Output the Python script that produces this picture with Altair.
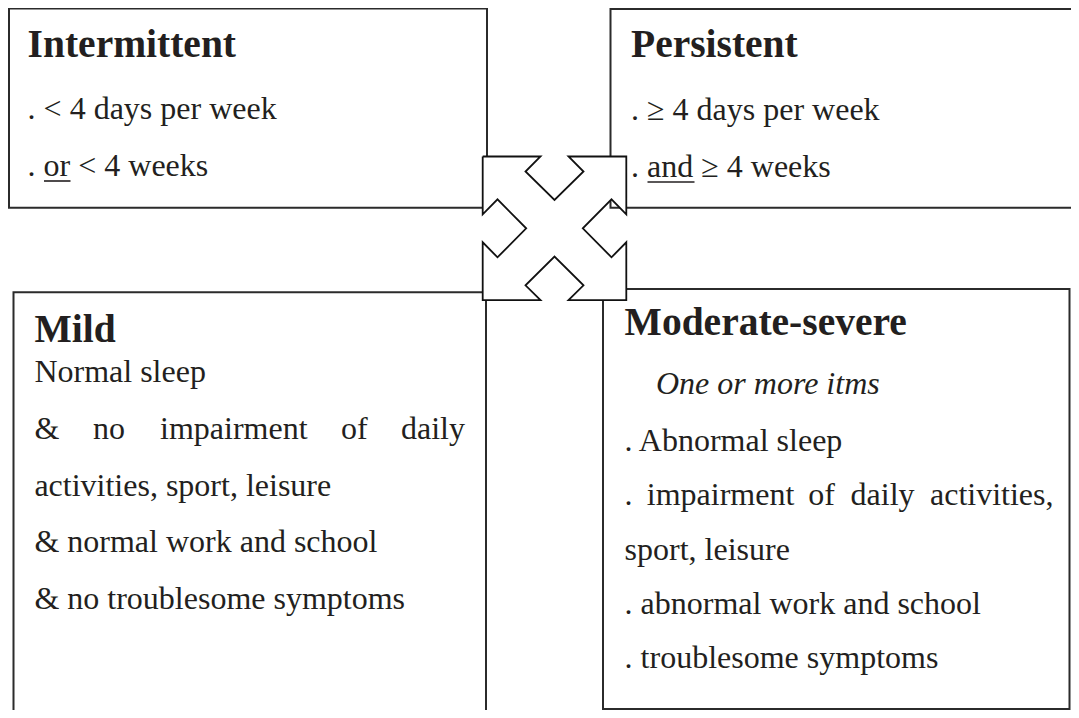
import altair as alt
import pandas as pd

# ---- boxes (page pixel coordinates) ----
box_names = ["Intermittent", "Persistent", "Mild", "Moderate-severe"]
box_x1 = [9.0, 610.5, 13.5, 603.0]
box_x2 = [487.0, 1100.0, 486.0, 1069.5]
box_y1 = [8.5, 9.0, 292.3, 289.0]
box_y2 = [207.7, 207.7, 740.0, 709.0]

# ---- four-way arrow outline ----
arrow_x = [482.7, 540.5, 525.5, 554.5, 583.5, 568.5, 626.3, 626.3, 611.5, 582.8,
           611.5, 626.3, 626.3, 568.5, 583.5, 554.5, 525.5, 540.5, 482.7, 482.7,
           497.5, 526.2, 497.5, 482.7, 482.7]
arrow_y = [156.5, 156.5, 171.5, 200.0, 171.5, 156.5, 156.5, 214.3, 199.3, 228.3,
           257.3, 242.3, 300.1, 300.1, 285.3, 256.6, 285.3, 300.1, 300.1, 242.3,
           257.3, 228.3, 199.3, 214.3, 156.5]

# ---- titles ----
title_text = ["Intermittent", "Persistent", "Mild", "Moderate-severe"]
title_x = [27.6, 631.0, 34.4, 624.6]
title_y = [57.0, 56.7, 342.0, 334.6]

# ---- body text (regular) ----
body_text = [
    ". < 4 days per week", ". or < 4 weeks",
    ". \u2265 4 days per week", ". and \u2265 4 weeks",
    "Normal sleep",
    "&", "no", "impairment", "of", "daily",
    "activities, sport, leisure", "& normal work and school", "& no troublesome symptoms",
    ". Abnormal sleep",
    ".", "impairment", "of", "daily", "activities,",
    "sport, leisure", ". abnormal work and school", ". troublesome symptoms",
]
body_x = [
    27.6, 27.6,
    631.0, 631.0,
    34.4,
    34.4, 93.0, 160.0, 341.0, 401.0,
    34.4, 34.4, 34.4,
    624.6,
    624.6, 646.8, 808.3, 850.6, 930.0,
    624.6, 624.6, 624.6,
]
body_y = [
    119.0, 176.0,
    120.0, 177.0,
    381.7,
    439.0, 439.0, 439.0, 439.0, 439.0,
    495.5, 552.0, 609.0,
    450.5,
    505.0, 505.0, 505.0, 505.0, 505.0,
    560.0, 614.4, 668.0,
]

# ---- italic note ----
note_text = ["One or more itms"]
note_x = [656.0]
note_y = [394.0]

# ---- underlines under "or" and "and" ----
ul_x1 = [44.0, 647.5]
ul_x2 = [70.5, 694.5]
ul_y = [181.0, 182.0]

INK = "#231f20"
FONT = "Liberation Serif"

xs = alt.Scale(domain=[8, 1071], nice=False, zero=False)
ys = alt.Scale(domain=[8, 710], nice=False, zero=False, reverse=True)

boxes = pd.DataFrame({"name": box_names, "x1": box_x1, "x2": box_x2, "y1": box_y1, "y2": box_y2})
arrow = pd.DataFrame({"i": list(range(len(arrow_x))), "x": arrow_x, "y": arrow_y})
titles = pd.DataFrame({"t": title_text, "x": title_x, "y": title_y})
body = pd.DataFrame({"t": body_text, "x": body_x, "y": body_y})
note = pd.DataFrame({"t": note_text, "x": note_x, "y": note_y})
ul = pd.DataFrame({"x1": ul_x1, "x2": ul_x2, "y": ul_y})

box_layer = alt.Chart(boxes).mark_rect(
    fill="transparent", stroke="#2b2b2b", strokeWidth=2, clip=True
).encode(
    x=alt.X("x1:Q", scale=xs, axis=None),
    x2="x2:Q",
    y=alt.Y("y1:Q", scale=ys, axis=None),
    y2="y2:Q",
)

arrow_layer = alt.Chart(arrow).mark_line(
    fill="white", stroke="#111111", strokeWidth=1.8, strokeJoin="miter", strokeMiterLimit=10
).encode(
    x=alt.X("x:Q", scale=xs, axis=None),
    y=alt.Y("y:Q", scale=ys, axis=None),
    order="i:Q",
)

def text_layer(df, **kw):
    return alt.Chart(df).mark_text(
        align="left", baseline="alphabetic", font=FONT, color=INK, **kw
    ).encode(
        x=alt.X("x:Q", scale=xs, axis=None),
        y=alt.Y("y:Q", scale=ys, axis=None),
        text="t:N",
    )

title_layer = text_layer(titles, fontSize=39.5, fontWeight="bold")
body_layer = text_layer(body, fontSize=32)
note_layer = text_layer(note, fontSize=32, fontStyle="italic")

ul_layer = alt.Chart(ul).mark_rule(stroke=INK, strokeWidth=1.6).encode(
    x=alt.X("x1:Q", scale=xs, axis=None),
    x2="x2:Q",
    y=alt.Y("y:Q", scale=ys, axis=None),
)

chart = alt.layer(
    box_layer, arrow_layer, title_layer, body_layer, note_layer, ul_layer
).properties(
    width=1063, height=702,
    autosize=alt.AutoSizeParams(type="none"),
    padding=0,
    background="white",
).configure_view(stroke=None)

chart.save("out.html", embed_options={"renderer": "svg", "actions": False})
